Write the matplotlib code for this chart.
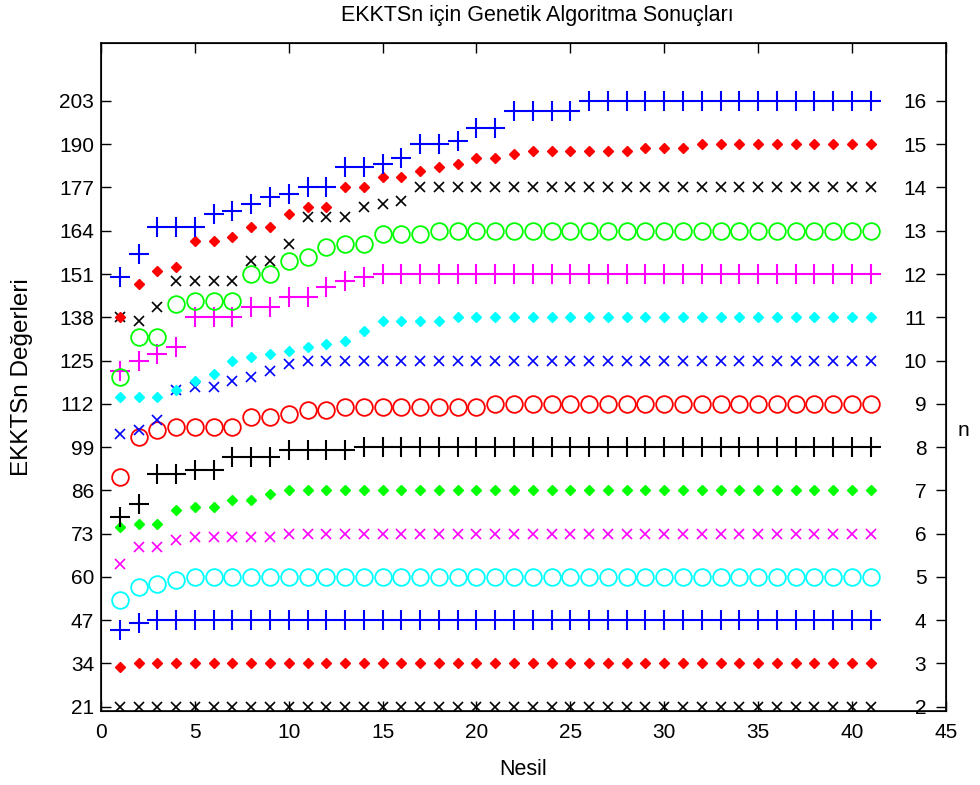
import matplotlib
matplotlib.use('Agg')
import matplotlib.pyplot as plt

plt.rcParams['font.family'] = ['Liberation Sans', 'DejaVu Sans']

nesil = list(range(1, 42))

# EKKTSn values per n, generation 1..41
n2 = [21, 21, 21, 21, 21, 21, 21, 21, 21, 21, 21, 21, 21, 21, 21, 21, 21, 21, 21, 21, 21,
      21, 21, 21, 21, 21, 21, 21, 21, 21, 21, 21, 21, 21, 21, 21, 21, 21, 21, 21, 21]
n3 = [33, 34, 34, 34, 34, 34, 34, 34, 34, 34, 34, 34, 34, 34, 34, 34, 34, 34, 34, 34, 34,
      34, 34, 34, 34, 34, 34, 34, 34, 34, 34, 34, 34, 34, 34, 34, 34, 34, 34, 34, 34]
n4 = [44, 46, 47, 47, 47, 47, 47, 47, 47, 47, 47, 47, 47, 47, 47, 47, 47, 47, 47, 47, 47,
      47, 47, 47, 47, 47, 47, 47, 47, 47, 47, 47, 47, 47, 47, 47, 47, 47, 47, 47, 47]
n5 = [53, 57, 58, 59, 60, 60, 60, 60, 60, 60, 60, 60, 60, 60, 60, 60, 60, 60, 60, 60, 60,
      60, 60, 60, 60, 60, 60, 60, 60, 60, 60, 60, 60, 60, 60, 60, 60, 60, 60, 60, 60]
n6 = [64, 69, 69, 71, 72, 72, 72, 72, 72, 73, 73, 73, 73, 73, 73, 73, 73, 73, 73, 73, 73,
      73, 73, 73, 73, 73, 73, 73, 73, 73, 73, 73, 73, 73, 73, 73, 73, 73, 73, 73, 73]
n7 = [75, 76, 76, 80, 81, 81, 83, 83, 85, 86, 86, 86, 86, 86, 86, 86, 86, 86, 86, 86, 86,
      86, 86, 86, 86, 86, 86, 86, 86, 86, 86, 86, 86, 86, 86, 86, 86, 86, 86, 86, 86]
n8 = [78, 82, 91, 91, 92, 92, 96, 96, 96, 98, 98, 98, 98, 99, 99, 99, 99, 99, 99, 99, 99,
      99, 99, 99, 99, 99, 99, 99, 99, 99, 99, 99, 99, 99, 99, 99, 99, 99, 99, 99, 99]
n9 = [90, 102, 104, 105, 105, 105, 105, 108, 108, 109, 110, 110, 111, 111, 111, 111, 111,
      111, 111, 111, 112, 112, 112, 112, 112, 112, 112, 112, 112, 112, 112, 112, 112, 112,
      112, 112, 112, 112, 112, 112, 112]
n10 = [103, 104, 107, 116, 117, 117, 119, 120, 122, 124, 125, 125, 125, 125, 125, 125, 125,
       125, 125, 125, 125, 125, 125, 125, 125, 125, 125, 125, 125, 125, 125, 125, 125, 125,
       125, 125, 125, 125, 125, 125, 125]
n11 = [114, 114, 114, 116, 119, 121, 125, 126, 127, 128, 129, 130, 131, 134, 137, 137, 137,
       137, 138, 138, 138, 138, 138, 138, 138, 138, 138, 138, 138, 138, 138, 138, 138, 138,
       138, 138, 138, 138, 138, 138, 138]
n12 = [122, 125, 127, 129, 138, 138, 138, 141, 141, 144, 144, 147, 149, 150, 151, 151, 151,
       151, 151, 151, 151, 151, 151, 151, 151, 151, 151, 151, 151, 151, 151, 151, 151, 151,
       151, 151, 151, 151, 151, 151, 151]
n13 = [120, 132, 132, 142, 143, 143, 143, 151, 151, 155, 156, 159, 160, 160, 163, 163, 163,
       164, 164, 164, 164, 164, 164, 164, 164, 164, 164, 164, 164, 164, 164, 164, 164, 164,
       164, 164, 164, 164, 164, 164, 164]
n14 = [138, 137, 141, 149, 149, 149, 149, 155, 155, 160, 168, 168, 168, 171, 172, 173, 177,
       177, 177, 177, 177, 177, 177, 177, 177, 177, 177, 177, 177, 177, 177, 177, 177, 177,
       177, 177, 177, 177, 177, 177, 177]
n15 = [138, 148, 152, 153, 161, 161, 162, 165, 165, 169, 171, 171, 177, 177, 180, 180, 182,
       183, 184, 186, 186, 187, 188, 188, 188, 188, 188, 188, 189, 189, 189, 190, 190, 190,
       190, 190, 190, 190, 190, 190, 190]
n16 = [150, 157, 165, 165, 165, 169, 170, 172, 174, 175, 177, 177, 183, 183, 184, 186, 190,
       190, 191, 195, 195, 200, 200, 200, 200, 203, 203, 203, 203, 203, 203, 203, 203, 203,
       203, 203, 203, 203, 203, 203, 203]

series = [n2, n3, n4, n5, n6, n7, n8, n9, n10, n11, n12, n13, n14, n15, n16]
left_ticks = [21, 34, 47, 60, 73, 86, 99, 112, 125, 138, 151, 164, 177, 190, 203]
right_ticks = [2, 3, 4, 5, 6, 7, 8, 9, 10, 11, 12, 13, 14, 15, 16]

# matlab-like pure colours: k r b c m g
renk = ['#000000', '#ff0000', '#0000ff', '#00ffff', '#ff00ff', '#00ff00']
isaret = ['x', 'D', '+', 'o']
boyut = {'x': 7, 'D': 5, '+': 15, 'o': 12}
kalin = {'x': 1.2, 'D': 1.0, '+': 1.5, 'o': 1.3}

fig = plt.figure(figsize=(9.8, 7.85), dpi=100)
ax = fig.add_axes([0.1031, 0.0949, 0.862, 0.8503])

for i, vals in enumerate(series):
    c = renk[i % 6]
    m = isaret[i % 4]
    if m == 'D':
        ax.plot(nesil, vals, linestyle='none', marker=m, color=c, markersize=boyut[m],
                markeredgewidth=kalin[m])
    else:
        ax.plot(nesil, vals, linestyle='none', marker=m, color=c, markersize=boyut[m],
                markeredgewidth=kalin[m], markerfacecolor='none')

ylo, yhi = 19.85, 220.4
ax.set_xlim(0, 45)
ax.set_ylim(ylo, yhi)
ax.set_xticks(range(0, 46, 5))
ax.set_yticks(left_ticks)
ax.tick_params(direction='in', length=7, width=1, top=True, right=False, labelsize=15)
ax.tick_params(axis='x', pad=9)
ax.tick_params(axis='y', pad=5)
for sp in ax.spines.values():
    sp.set_linewidth(1.2)

ax2 = ax.twinx()
ax2.set_ylim(2 + (ylo - 21) / 13, 2 + (yhi - 21) / 13)
ax2.set_yticks(right_ticks)
ax2.tick_params(axis='y', direction='in', length=7, width=1, labelsize=15, pad=-14)
for lbl in ax2.get_yticklabels():
    lbl.set_horizontalalignment('right')

ax.set_xlabel('Nesil', fontsize=15.5, labelpad=12)
fig.text(22 / 980, 1 - 377 / 785, 'EKKTSn Değerleri', fontsize=17.5, rotation=90,
         ha='center', va='center')
fig.text(537 / 980, 1 - 16 / 785, 'EKKTSn için Genetik Algoritma Sonuçları',
         fontsize=15.5, ha='center', va='center')
fig.text(963 / 980, 1 - 430 / 785, 'n', fontsize=15, ha='center', va='center')

plt.savefig('out.png', dpi=100)
